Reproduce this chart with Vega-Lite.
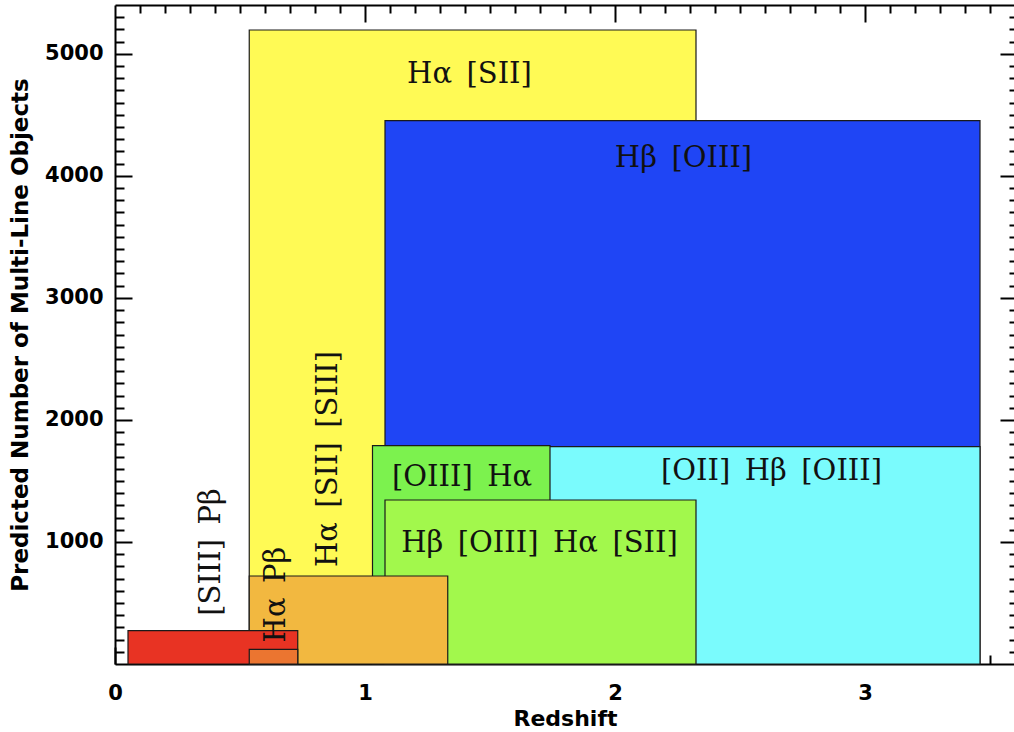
{
  "$schema": "https://vega.github.io/schema/vega-lite/v6.json",
  "width": 900,
  "height": 659,
  "autosize": {"type": "none"},
  "padding": {"left": 115, "top": 5, "right": 0, "bottom": 68},
  "background": "white",
  "datasets": {
    "boxes": [
      {"name": "Hα [SII]", "x1": 0.537, "x2": 2.324, "y1": 0, "y2": 5195},
      {"name": "Hβ [OIII]", "x1": 1.08, "x2": 3.46, "y1": 0, "y2": 4452},
      {"name": "[OII] Hβ [OIII]", "x1": 1.08, "x2": 3.46, "y1": 0, "y2": 1781},
      {"name": "[OIII] Hα", "x1": 1.03, "x2": 1.74, "y1": 0, "y2": 1789},
      {"name": "Hβ [OIII] Hα [SII]", "x1": 1.08, "x2": 2.324, "y1": 0, "y2": 1344},
      {"name": "Hα [SII] [SIII]", "x1": 0.537, "x2": 1.331, "y1": 0, "y2": 721},
      {"name": "[SIII] Pβ", "x1": 0.052, "x2": 0.731, "y1": 0, "y2": 273},
      {"name": "Hα Pβ", "x1": 0.537, "x2": 0.731, "y1": 0, "y2": 120}
    ],
    "labels": [
      {"label": "Hα\u2002[SII]", "x": 1.418, "y": 4761, "dir": "h"},
      {"label": "Hβ\u2002[OIII]", "x": 2.274, "y": 4075, "dir": "h"},
      {"label": "[OII]\u2002Hβ\u2002[OIII]", "x": 2.626, "y": 1508, "dir": "h"},
      {"label": "[OIII]\u2002Hα", "x": 1.388, "y": 1455, "dir": "h"},
      {"label": "Hβ\u2002[OIII]\u2002Hα\u2002[SII]", "x": 1.698, "y": 920, "dir": "h"},
      {"label": "Hα\u2002[SII]\u2002[SIII]", "x": 0.887, "y": 1680, "dir": "v"},
      {"label": "[SIII]\u2002Pβ", "x": 0.42, "y": 918, "dir": "v"},
      {"label": "Hα\u2002Pβ", "x": 0.68, "y": 569, "dir": "v"}
    ]
  },
  "layer": [
    {
      "data": {"name": "boxes"},
      "mark": {"type": "rect", "stroke": "#1a1a1a", "strokeWidth": 1.2},
      "encoding": {
        "x": {
          "field": "x1", "type": "quantitative",
          "scale": {"domain": [0, 3.6], "nice": false, "zero": false},
          "axis": {"orient": "bottom", "values": [0, 1, 2, 3], "format": "d", "tickSize": -17, "labelPadding": 35, "labelFlush": false, "title": "Redshift", "titleFontSize": 22, "titlePadding": 5, "domain": true}
        },
        "x2": {"field": "x2"},
        "y": {
          "field": "y1", "type": "quantitative",
          "scale": {"domain": [0, 5400], "nice": false, "zero": false},
          "axis": {"orient": "left", "values": [1000, 2000, 3000, 4000, 5000], "format": "d", "tickSize": -17, "labelPadding": 29, "labelFlush": false, "title": "Predicted Number of Multi-Line Objects", "titleFontSize": 23, "titlePadding": 12, "domain": true}
        },
        "y2": {"field": "y2"},
        "color": {
          "field": "name", "type": "nominal", "legend": null,
          "scale": {
            "domain": ["Hα [SII]", "Hβ [OIII]", "[OII] Hβ [OIII]", "[OIII] Hα", "Hβ [OIII] Hα [SII]", "Hα [SII] [SIII]", "[SIII] Pβ", "Hα Pβ"],
            "range": ["#FFFA55", "#1F45F5", "#7AFBFD", "#7CF24E", "#A2F84C", "#F2B840", "#E83323", "#EB7530"]
          }
        }
      }
    },
    {
      "data": {"name": "labels"},
      "transform": [{"filter": "datum.dir == 'h' && datum.y > 1480"}],
      "mark": {"type": "text", "font": "DejaVu Serif", "fontSize": 29, "color": "#111111", "align": "center", "baseline": "alphabetic"},
      "encoding": {
        "x": {"field": "x", "type": "quantitative", "axis": {"orient": "bottom", "values": [0.1, 0.2, 0.3, 0.4, 0.5, 0.6, 0.7, 0.8, 0.9, 1.1, 1.2, 1.3, 1.4, 1.5, 1.6, 1.7, 1.8, 1.9, 2.1, 2.2, 2.3, 2.4, 2.5, 2.6, 2.7, 2.8, 2.9, 3.1, 3.2, 3.3, 3.4, 3.5], "tickSize": -9, "labels": false, "domain": false, "title": null}},
        "y": {"field": "y", "type": "quantitative", "axis": {"orient": "left", "values": [100, 200, 300, 400, 500, 600, 700, 800, 900, 1100, 1200, 1300, 1400, 1500, 1600, 1700, 1800, 1900, 2100, 2200, 2300, 2400, 2500, 2600, 2700, 2800, 2900, 3100, 3200, 3300, 3400, 3500, 3600, 3700, 3800, 3900, 4100, 4200, 4300, 4400, 4500, 4600, 4700, 4800, 4900, 5100, 5200, 5300], "tickSize": -9, "labels": false, "domain": false, "title": null}},
        "text": {"field": "label"}
      }
    },
    {
      "data": {"name": "labels"},
      "transform": [{"filter": "datum.dir == 'h' && datum.y <= 1480"}],
      "mark": {"type": "text", "font": "DejaVu Serif", "fontSize": 29, "color": "#111111", "align": "center", "baseline": "alphabetic"},
      "encoding": {
        "x": {"field": "x", "type": "quantitative", "axis": {"orient": "top", "values": [1, 2, 3], "tickSize": -17, "labels": false, "domain": true, "title": null}},
        "y": {"field": "y", "type": "quantitative", "axis": {"orient": "right", "values": [1000, 2000, 3000, 4000, 5000], "tickSize": -15, "labels": false, "domain": true, "title": null}},
        "text": {"field": "label"}
      }
    },
    {
      "data": {"name": "labels"},
      "transform": [{"filter": "datum.dir == 'v'"}],
      "mark": {"type": "text", "font": "DejaVu Serif", "fontSize": 29, "color": "#111111", "align": "center", "baseline": "alphabetic", "angle": 270},
      "encoding": {
        "x": {"field": "x", "type": "quantitative", "axis": {"orient": "top", "values": [0.1, 0.2, 0.3, 0.4, 0.5, 0.6, 0.7, 0.8, 0.9, 1.1, 1.2, 1.3, 1.4, 1.5, 1.6, 1.7, 1.8, 1.9, 2.1, 2.2, 2.3, 2.4, 2.5, 2.6, 2.7, 2.8, 2.9, 3.1, 3.2, 3.3, 3.4, 3.5], "tickSize": -8, "labels": false, "domain": false, "title": null}},
        "y": {"field": "y", "type": "quantitative", "axis": {"orient": "right", "values": [100, 200, 300, 400, 500, 600, 700, 800, 900, 1100, 1200, 1300, 1400, 1500, 1600, 1700, 1800, 1900, 2100, 2200, 2300, 2400, 2500, 2600, 2700, 2800, 2900, 3100, 3200, 3300, 3400, 3500, 3600, 3700, 3800, 3900, 4100, 4200, 4300, 4400, 4500, 4600, 4700, 4800, 4900, 5100, 5200, 5300], "tickSize": -6, "labels": false, "domain": false, "title": null}},
        "text": {"field": "label"}
      }
    }
  ],
  "resolve": {"axis": {"x": "independent", "y": "independent"}},
  "config": {
    "view": {"stroke": null},
    "axis": {
      "grid": false,
      "domainColor": "black",
      "domainWidth": 2,
      "tickColor": "black",
      "tickWidth": 2,
      "labelFont": "DejaVu Sans",
      "labelFontWeight": "bold",
      "labelFontSize": 21,
      "labelColor": "black",
      "titleFont": "DejaVu Sans",
      "titleFontWeight": "bold",
      "titleColor": "black"
    }
  }
}
